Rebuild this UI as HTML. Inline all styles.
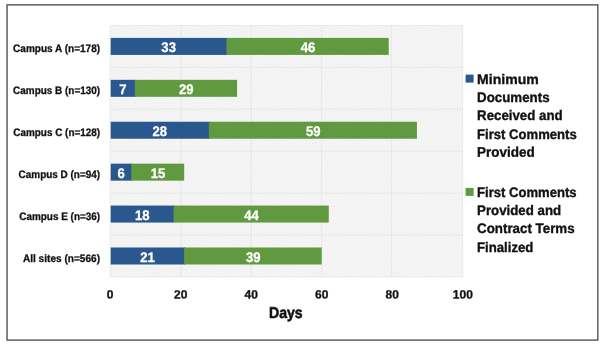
<!DOCTYPE html>
<html lang="en"><head><meta charset="utf-8"><title>Days by campus</title>
<style>html,body{margin:0;padding:0;background:#fff;}body{width:604px;height:347px;overflow:hidden;}svg{display:block;}text{font-family:"Liberation Sans", sans-serif;font-weight:bold;text-rendering:geometricPrecision;}</style></head><body>
<svg width="604" height="347" viewBox="0 0 604 347">
<defs><pattern id="hatch" width="2.02" height="8" patternUnits="userSpaceOnUse" patternTransform="rotate(-45)"><rect width="2.02" height="8" fill="#ffffff"/><rect width="1" height="8" fill="#e8e8e8"/></pattern></defs>
<rect x="0" y="0" width="604" height="347" fill="#ffffff"/>
<rect x="7.03" y="4.88" width="590.8" height="335.2" fill="none" stroke="#464646" stroke-width="1.3"/>
<rect x="110.1" y="25.45" width="352.7" height="251.5" fill="url(#hatch)" stroke="#e6e6e6" stroke-width="0.8"/>
<line x1="180.9" y1="25.45" x2="180.9" y2="276.95" stroke="#e5e5e5" stroke-width="0.8"/>
<line x1="251.3" y1="25.45" x2="251.3" y2="276.95" stroke="#e5e5e5" stroke-width="0.8"/>
<line x1="321.6" y1="25.45" x2="321.6" y2="276.95" stroke="#e5e5e5" stroke-width="0.8"/>
<line x1="391.6" y1="25.45" x2="391.6" y2="276.95" stroke="#e5e5e5" stroke-width="0.8"/>
<line x1="110.1" y1="67.37" x2="462.8" y2="67.37" stroke="#e5e5e5" stroke-width="0.8"/>
<line x1="110.1" y1="109.28" x2="462.8" y2="109.28" stroke="#e5e5e5" stroke-width="0.8"/>
<line x1="110.1" y1="151.2" x2="462.8" y2="151.2" stroke="#e5e5e5" stroke-width="0.8"/>
<line x1="110.1" y1="193.12" x2="462.8" y2="193.12" stroke="#e5e5e5" stroke-width="0.8"/>
<line x1="110.1" y1="235.03" x2="462.8" y2="235.03" stroke="#e5e5e5" stroke-width="0.8"/>
<rect x="110.7" y="37.91" width="116.79" height="17" fill="#2a588e"/>
<rect x="226.49" y="37.91" width="162.24" height="17" fill="#619940"/>
<rect x="110.7" y="79.83" width="25.09" height="17" fill="#2a588e"/>
<rect x="134.79" y="79.83" width="102.28" height="17" fill="#619940"/>
<rect x="110.7" y="121.74" width="99.16" height="17" fill="#2a588e"/>
<rect x="208.86" y="121.74" width="208.09" height="17" fill="#619940"/>
<rect x="110.7" y="163.66" width="21.56" height="17" fill="#2a588e"/>
<rect x="131.26" y="163.66" width="52.91" height="17" fill="#619940"/>
<rect x="110.7" y="205.57" width="63.89" height="17" fill="#2a588e"/>
<rect x="173.59" y="205.57" width="155.19" height="17" fill="#619940"/>
<rect x="110.7" y="247.49" width="74.47" height="17" fill="#2a588e"/>
<rect x="184.17" y="247.49" width="137.55" height="17" fill="#619940"/>
<rect x="465.6" y="74.6" width="8" height="8" fill="#2a588e"/>
<rect x="465.6" y="187.9" width="8" height="8" fill="#619940"/>
<g transform="matrix(1 0.0005 0 1 0 0)">
<text x="161.35" y="52.42" font-size="13.9" fill="#ffffff" stroke="#ffffff" stroke-width="0.3" textLength="14.6" lengthAdjust="spacingAndGlyphs">33</text>
<text x="300.66" y="52.35" font-size="13.9" fill="#ffffff" stroke="#ffffff" stroke-width="0.3" textLength="14.6" lengthAdjust="spacingAndGlyphs">46</text>
<text x="13.1" y="51.87" font-size="10.8" fill="#111111" stroke="#111111" stroke-width="0.3" textLength="87" lengthAdjust="spacingAndGlyphs">Campus A (n=178)</text>
<text x="119.14" y="94.36" font-size="13.9" fill="#ffffff" stroke="#ffffff" stroke-width="0.3" textLength="7.3" lengthAdjust="spacingAndGlyphs">7</text>
<text x="178.98" y="94.33" font-size="13.9" fill="#ffffff" stroke="#ffffff" stroke-width="0.3" textLength="14.6" lengthAdjust="spacingAndGlyphs">29</text>
<text x="13.1" y="93.87" font-size="10.8" fill="#111111" stroke="#111111" stroke-width="0.3" textLength="87" lengthAdjust="spacingAndGlyphs">Campus B (n=130)</text>
<text x="152.53" y="136.26" font-size="13.9" fill="#ffffff" stroke="#ffffff" stroke-width="0.3" textLength="14.6" lengthAdjust="spacingAndGlyphs">28</text>
<text x="305.95" y="136.19" font-size="13.9" fill="#ffffff" stroke="#ffffff" stroke-width="0.3" textLength="14.6" lengthAdjust="spacingAndGlyphs">59</text>
<text x="13.3" y="135.87" font-size="10.8" fill="#111111" stroke="#111111" stroke-width="0.3" textLength="86.8" lengthAdjust="spacingAndGlyphs">Campus C (n=128)</text>
<text x="117.38" y="178.2" font-size="13.9" fill="#ffffff" stroke="#ffffff" stroke-width="0.3" textLength="7.3" lengthAdjust="spacingAndGlyphs">6</text>
<text x="150.76" y="178.18" font-size="13.9" fill="#ffffff" stroke="#ffffff" stroke-width="0.3" textLength="14.6" lengthAdjust="spacingAndGlyphs">15</text>
<text x="18.6" y="177.87" font-size="10.8" fill="#111111" stroke="#111111" stroke-width="0.3" textLength="81.5" lengthAdjust="spacingAndGlyphs">Campus D (n=94)</text>
<text x="134.89" y="220.1" font-size="13.9" fill="#ffffff" stroke="#ffffff" stroke-width="0.3" textLength="14.6" lengthAdjust="spacingAndGlyphs">18</text>
<text x="244.23" y="220.05" font-size="13.9" fill="#ffffff" stroke="#ffffff" stroke-width="0.3" textLength="14.6" lengthAdjust="spacingAndGlyphs">44</text>
<text x="19.3" y="219.87" font-size="10.8" fill="#111111" stroke="#111111" stroke-width="0.3" textLength="80.8" lengthAdjust="spacingAndGlyphs">Campus E (n=36)</text>
<text x="140.18" y="262.02" font-size="13.9" fill="#ffffff" stroke="#ffffff" stroke-width="0.3" textLength="14.6" lengthAdjust="spacingAndGlyphs">21</text>
<text x="245.99" y="261.97" font-size="13.9" fill="#ffffff" stroke="#ffffff" stroke-width="0.3" textLength="14.6" lengthAdjust="spacingAndGlyphs">39</text>
<text x="22.9" y="261.87" font-size="10.8" fill="#111111" stroke="#111111" stroke-width="0.3" textLength="77.2" lengthAdjust="spacingAndGlyphs">All sites (n=566)</text>
<text x="110.1" y="298.54" font-size="12" fill="#111111" stroke="#111111" stroke-width="0.3" text-anchor="middle">0</text>
<text x="180.64" y="298.51" font-size="12" fill="#111111" stroke="#111111" stroke-width="0.3" text-anchor="middle">20</text>
<text x="251.18" y="298.47" font-size="12" fill="#111111" stroke="#111111" stroke-width="0.3" text-anchor="middle">40</text>
<text x="321.72" y="298.44" font-size="12" fill="#111111" stroke="#111111" stroke-width="0.3" text-anchor="middle">60</text>
<text x="392.26" y="298.4" font-size="12" fill="#111111" stroke="#111111" stroke-width="0.3" text-anchor="middle">80</text>
<text x="462.8" y="298.37" font-size="12" fill="#111111" stroke="#111111" stroke-width="0.3" text-anchor="middle">100</text>
<text x="269.05" y="317.46" font-size="15.8" fill="#111111" stroke="#111111" stroke-width="0.55" textLength="33.6" lengthAdjust="spacingAndGlyphs">Days</text>
<text x="477.1" y="83.65" font-size="13.8" fill="#111111" stroke="#111111" stroke-width="0.35" textLength="61.7" lengthAdjust="spacingAndGlyphs">Minimum</text>
<text x="477.1" y="101.84" font-size="13.8" fill="#111111" stroke="#111111" stroke-width="0.35" textLength="72.5" lengthAdjust="spacingAndGlyphs">Documents</text>
<text x="477.1" y="120.04" font-size="13.8" fill="#111111" stroke="#111111" stroke-width="0.35" textLength="85.5" lengthAdjust="spacingAndGlyphs">Received and</text>
<text x="477.1" y="138.54" font-size="13.8" fill="#111111" stroke="#111111" stroke-width="0.35" textLength="99.6" lengthAdjust="spacingAndGlyphs">First Comments</text>
<text x="477.1" y="156.45" font-size="13.8" fill="#111111" stroke="#111111" stroke-width="0.35" textLength="57.7" lengthAdjust="spacingAndGlyphs">Provided</text>
<text x="477.1" y="196.84" font-size="13.8" fill="#111111" stroke="#111111" stroke-width="0.35" textLength="99.5" lengthAdjust="spacingAndGlyphs">First Comments</text>
<text x="477.1" y="214.84" font-size="13.8" fill="#111111" stroke="#111111" stroke-width="0.35" textLength="84" lengthAdjust="spacingAndGlyphs">Provided and</text>
<text x="477.1" y="233.14" font-size="13.8" fill="#111111" stroke="#111111" stroke-width="0.35" textLength="97.5" lengthAdjust="spacingAndGlyphs">Contract Terms</text>
<text x="477.1" y="251.85" font-size="13.8" fill="#111111" stroke="#111111" stroke-width="0.35" textLength="56.2" lengthAdjust="spacingAndGlyphs">Finalized</text>
</g>
</svg></body></html>
